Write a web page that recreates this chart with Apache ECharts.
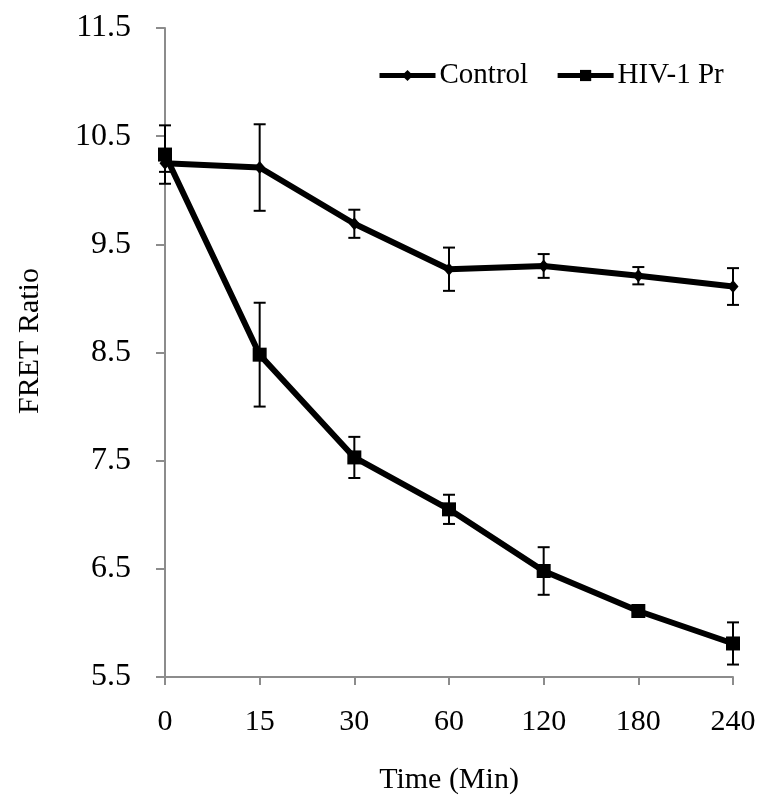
<!DOCTYPE html>
<html>
<head>
<meta charset="utf-8">
<script src="https://cdn.jsdelivr.net/npm/echarts@6/dist/echarts.min.js"></script>
<style>html,body{margin:0;padding:0;background:#fff}#c{width:761px;height:795px}</style>
</head>
<body>
<div id="c"></div>
<script>
var categories = ['0', '15', '30', '60', '120', '180', '240'];
var controlValues = [10.25, 10.21, 9.69, 9.27, 9.30, 9.21, 9.11];
var controlErrors = [0.08, 0.40, 0.13, 0.20, 0.11, 0.08, 0.17];
var hivValues = [10.33, 8.48, 7.53, 7.05, 6.48, 6.11, 5.81];
var hivErrors = [0.27, 0.48, 0.19, 0.135, 0.22, 0.03, 0.195];
var yTicks = [5.5, 6.5, 7.5, 8.5, 9.5, 10.5, 11.5];

var FONT = 'Liberation Serif';

function errData(vals, errs) {
  return vals.map(function (v, i) { return [i, v - errs[i], v + errs[i]]; });
}
function errRender(params, api) {
  var x = api.value(0);
  var lo = api.coord([x, api.value(1)]);
  var hi = api.coord([x, api.value(2)]);
  var w = 6;
  var st = { stroke: '#000', lineWidth: 2 };
  return {
    type: 'group',
    children: [
      { type: 'line', shape: { x1: hi[0], y1: hi[1], x2: lo[0], y2: lo[1] }, style: st },
      { type: 'line', shape: { x1: hi[0] - w, y1: hi[1], x2: hi[0] + w, y2: hi[1] }, style: st },
      { type: 'line', shape: { x1: lo[0] - w, y1: lo[1], x2: lo[0] + w, y2: lo[1] }, style: st }
    ]
  };
}

var chart = echarts.init(document.getElementById('c'), null, { renderer: 'canvas' });
chart.setOption({
  animation: false,
  backgroundColor: '#fff',
  textStyle: { fontFamily: FONT, color: '#000' },
  grid: { left: 165, right: 28, top: 28, bottom: 118, containLabel: false, outerBoundsMode: 'none' },
  legend: {
    top: 56, left: 372,
    itemWidth: 56, itemHeight: 14, itemGap: 27,
    lineStyle: { width: 5 },
    textStyle: { fontFamily: FONT, fontSize: 29, color: '#000', padding: [0, 0, 0, -1] },
    data: ['Control', 'HIV-1 Pr']
  },
  xAxis: {
    type: 'category',
    data: categories,
    boundaryGap: false,
    name: 'Time (Min)',
    nameLocation: 'middle',
    nameGap: 88,
    nameTextStyle: { fontFamily: FONT, fontSize: 30, color: '#000' },
    axisLine: { lineStyle: { color: '#8c8c8c', width: 2 } },
    axisTick: { show: true, alignWithLabel: true, length: 8, lineStyle: { color: '#8c8c8c', width: 2 } },
    axisLabel: { fontFamily: FONT, fontSize: 30, color: '#000', margin: 30 },
    splitLine: { show: false }
  },
  yAxis: {
    type: 'value',
    min: 5.5, max: 11.5,
    name: 'FRET Ratio',
    nameLocation: 'middle',
    nameGap: 120,
    nameTextStyle: { fontFamily: FONT, fontSize: 30, color: '#000', padding: [0, 0, 0, 23] },
    axisLine: { show: true, lineStyle: { color: '#8c8c8c', width: 2 } },
    axisTick: { show: true, length: 9, customValues: yTicks, lineStyle: { color: '#8c8c8c', width: 2 } },
    axisLabel: {
      fontFamily: FONT, fontSize: 32, color: '#000', margin: 34,
      customValues: yTicks,
      formatter: function (v) { return v.toFixed(1); }
    },
    splitLine: { show: false }
  },
  series: [
    {
      name: 'Control', type: 'line', data: controlValues,
      symbol: 'diamond', symbolSize: [11, 13],
      lineStyle: { color: '#000', width: 6 },
      itemStyle: { color: '#000' },
      z: 3
    },
    {
      name: 'HIV-1 Pr', type: 'line', data: hivValues,
      symbol: 'rect', symbolSize: 14,
      lineStyle: { color: '#000', width: 6 },
      itemStyle: { color: '#000' },
      z: 4
    },
    {
      type: 'custom', data: errData(controlValues, controlErrors),
      renderItem: errRender, encode: { x: 0, y: [1, 2] }, z: 5, silent: true
    },
    {
      type: 'custom', data: errData(hivValues, hivErrors),
      renderItem: errRender, encode: { x: 0, y: [1, 2] }, z: 5, silent: true
    }
  ]
});
</script>
</body>
</html>
